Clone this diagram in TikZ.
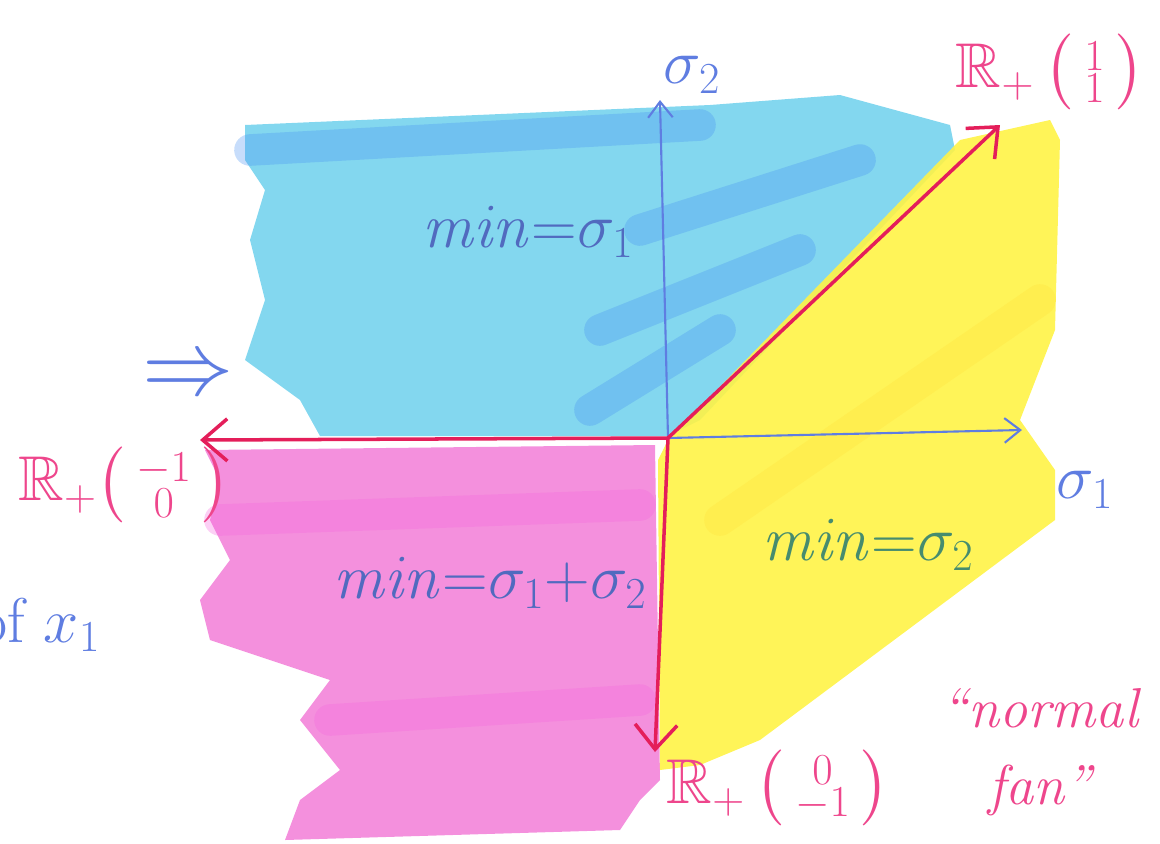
\RequirePackage{fix-cm}
\documentclass[tikz,border=0pt]{standalone}
\usepackage{amsmath,amssymb}
\usetikzlibrary{arrows.meta,positioning}
\definecolor{hlcyan}{RGB}{100,205,235}
\definecolor{hlpink}{RGB}{242,125,215}
\definecolor{hlyellow}{RGB}{255,243,70}
\definecolor{penred}{RGB}{228,30,90}
\definecolor{penblue}{RGB}{95,125,225}
\definecolor{penpink}{RGB}{238,70,140}
\definecolor{pengreen}{RGB}{70,140,110}
\tikzset{
  axis/.style={penblue, line width=1.2pt, -{Straight Barb[length=9pt,width=14pt]}},
  ray/.style={penred, line width=2pt, -{Straight Barb[length=14pt,width=24pt]}},
  lbl/.style={inner sep=0pt, font=\fontsize{36}{40}\selectfont},
  hl/.style={line width=18pt, line cap=round, opacity=0.3},
}
\newcommand{\vecrow}[2]{\bigl(\begin{smallmatrix}#1\\#2\end{smallmatrix}\bigr)}

\begin{document}
\begin{tikzpicture}[x=0.02cm,y=-0.02cm]
  \useasboundingbox (0,0) rectangle (1160,843);
  \clip (0,0) rectangle (1160,843);
  % highlighted regions
  \fill[hlcyan, opacity=0.8] (245,125) -- (710,105) -- (840,95) -- (950,125) -- (955,150)
    -- (700,420) -- (668,436) -- (320,436) -- (300,400) -- (245,360) -- (265,300)
    -- (250,240) -- (265,190) -- (245,160) -- cycle;
  \fill[hlpink, opacity=0.85] (205,450) -- (655,445) -- (660,780) -- (640,800) -- (620,830)
    -- (285,840) -- (300,800) -- (340,770) -- (300,720) -- (330,680) -- (210,640)
    -- (200,600) -- (230,560) -- (210,520) -- (220,480) -- cycle;
  \fill[hlyellow, opacity=0.9] (668,440) -- (960,140) -- (1050,120) -- (1060,140) -- (1055,330)
    -- (1020,420) -- (1055,470) -- (1055,520) -- (760,740) -- (700,765) -- (660,770)
    -- (658,460) -- cycle;
  % marker strokes
  \draw[hl, hlcyan!70!blue] (250,150) -- (700,125);
  \draw[hl, hlcyan!70!blue] (640,230) -- (860,160);
  \draw[hl, hlcyan!70!blue] (600,330) -- (800,250);
  \draw[hl, hlcyan!70!blue] (590,410) -- (720,330);
  \draw[hl, hlpink!80!magenta] (220,520) -- (640,505);
  \draw[hl, hlpink!80!magenta] (330,720) -- (640,700);
  \draw[hl, hlyellow!85!orange] (720,520) -- (1040,300);

  % axes
  \coordinate (O) at (668,438);
  \coordinate (s1) at (1022,430);
  \coordinate (s2) at (660,100);
  \draw[axis] (O) -- (s1);
  \draw[axis] (O) -- (s2);
  \node[lbl, penblue] (s1lbl) at (1085,490) {$\sigma_1$};
  \node[lbl, penblue] (s2lbl) at (692,75) {$\sigma_2$};

  % rays of the fan
  \coordinate (e11) at (1000,125);
  \coordinate (em10) at (200,440);
  \coordinate (e0m1) at (655,752);
  \draw[ray] (O) -- (e11);
  \draw[ray] (O) -- (em10);
  \draw[ray] (O) -- (e0m1);

  \node[lbl, penpink] (l11) at (1050,72) {$\mathbb{R}_+\,\vecrow{1}{1}$};
  \node[lbl, penpink, anchor=west] (lm10) at (18,485) {$\mathbb{R}_+\vecrow{-1}{0}$};
  \node[lbl, penpink] (l0m1) at (778,788) {$\mathbb{R}_+\,\vecrow{0}{-1}$};

  % region labels
  \node[lbl, penblue!85!black] (min1) at (528,232) {$\mathit{min}{=}\sigma_1$};
  \node[lbl, penblue!85!black] (min12) at (490,583) {$\mathit{min}{=}\sigma_1{+}\sigma_2$};
  \node[lbl, pengreen] (min2) at (868,545) {$\mathit{min}{=}\sigma_2$};

  \node[lbl, penpink, align=center, font=\fontsize{32}{44}\selectfont\itshape] (fan) at (1040,752) {``normal\\ fan''};
  \node[lbl, penblue, font=\fontsize{52}{56}\selectfont] (impl) at (188,378) {$\Rightarrow$};
  \node[lbl, penblue, anchor=west] (ofx) at (-22,625) {of $x_1$};
\end{tikzpicture}
\end{document}
